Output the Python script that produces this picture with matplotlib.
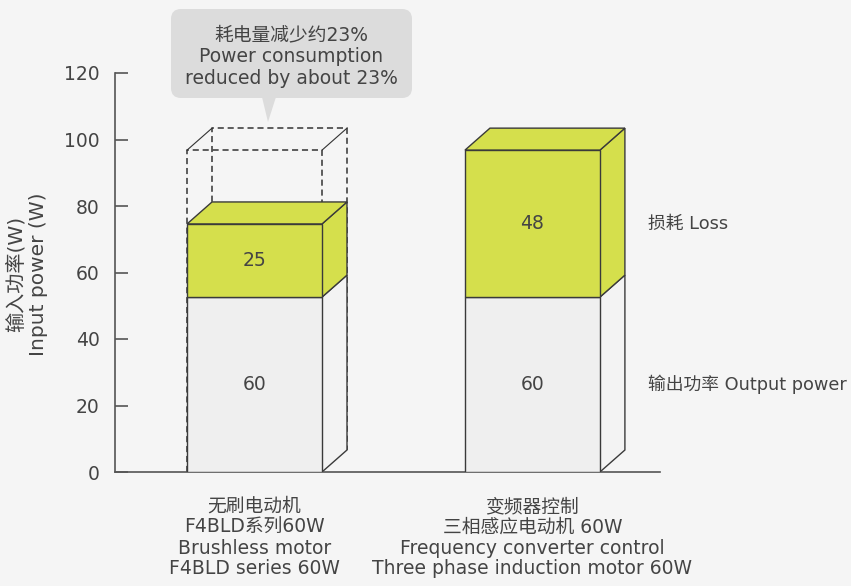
import matplotlib.pyplot as plt
from matplotlib.patches import Polygon, FancyBboxPatch
import numpy as np

plt.rcParams['font.family'] = ['DejaVu Sans', 'Noto Sans CJK SC']

categories = ['无刷电动机\nF4BLD系列60W\nBrushless motor\nF4BLD series 60W',
              '变频器控制\n三相感应电动机 60W\nFrequency converter control\nThree phase induction motor 60W']
output_labels = [60, 60]   # numbers printed on the bars
loss_labels = [25, 48]
# heights as drawn in the picture (the drawing is not to scale with the printed numbers)
output_height = [52.6, 52.6]
loss_height = [22.0, 44.2]
y_ticks = [0, 20, 40, 60, 80, 100, 120]
series_names = ['损耗 Loss', '输出功率 Output power']
callout_text = '耗电量减少约23%\nPower consumption\nreduced by about 23%'

bg = '#f5f5f5'
grey = '#efefef'
green = '#d5df4c'
edge = '#3a3a3a'
txt = '#444444'
fs = 13.5

W, H = 851, 586
fig = plt.figure(figsize=(W / 100, H / 100), dpi=100, facecolor=bg)
ax = fig.add_axes([115 / W, 114 / H, 545 / W, 399 / H])
ax.set_facecolor(bg)

x = np.arange(len(categories))
width = 135 / 278
dx = 25 / 278       # depth offset in x data units
dy = 22 / 3.325     # depth offset in y data units

out = np.array(output_height)
loss = np.array(loss_height)
tot = out + loss

# dashed "ghost" box on the first bar showing the other bar's total
ref = tot[1]
l, r = x[0] - width / 2, x[0] + width / 2
ghost = dict(color='#333333', lw=1.1, ls=(0, (4, 2.5)), zorder=1)
ax.plot([l, l, r, r], [0, ref, ref, 0], **ghost)
ax.plot([l + dx, l + dx, r + dx, r + dx], [dy, ref + dy, ref + dy, dy], **ghost)
ax.plot([l, l + dx], [ref, ref + dy], color='#333333', lw=0.8, zorder=1)
ax.plot([r, r + dx], [ref, ref + dy], color='#333333', lw=0.8, zorder=1)

ax.bar(x, out, width, color=grey, edgecolor=edge, linewidth=1, zorder=3)
ax.bar(x, loss, width, bottom=out, color=green, edgecolor=edge, linewidth=1, zorder=3)

for i in range(len(x)):
    l, r = x[i] - width / 2, x[i] + width / 2
    side_grey = [(r, 0), (r + dx, dy), (r + dx, out[i] + dy), (r, out[i])]
    side_green = [(r, out[i]), (r + dx, out[i] + dy), (r + dx, tot[i] + dy), (r, tot[i])]
    top = [(l, tot[i]), (l + dx, tot[i] + dy), (r + dx, tot[i] + dy), (r, tot[i])]
    ax.add_patch(Polygon(side_grey, closed=True, fc='#f3f3f3', ec=edge, lw=1, zorder=2))
    ax.add_patch(Polygon(side_green, closed=True, fc=green, ec=edge, lw=1, zorder=2))
    ax.add_patch(Polygon(top, closed=True, fc=green, ec=edge, lw=1, zorder=2))
    ax.text(x[i], out[i] / 2, str(output_labels[i]), ha='center', va='center',
            fontsize=fs, color=txt, zorder=5)
    ax.text(x[i], out[i] + loss[i] / 2, str(loss_labels[i]), ha='center', va='center',
            fontsize=fs, color=txt, zorder=5)

ax.set_xlim(-0.502, 1.459)
ax.set_ylim(0, 120)
ax.set_yticks(y_ticks)
ax.set_xticks(x, categories)
for lab in ax.get_xticklabels():
    lab.set_linespacing(1.12)
ax.tick_params(axis='y', direction='in', length=9.5, width=1.2, color='#555555',
               labelsize=fs, labelcolor=txt, pad=11)
ax.tick_params(axis='x', length=0, pad=18, labelsize=fs, labelcolor=txt)
for s in ['top', 'right']:
    ax.spines[s].set_visible(False)
for s in ['left', 'bottom']:
    ax.spines[s].set_color('#555555')
    ax.spines[s].set_linewidth(1.2)

# overlay in pixel coordinates for labels and callout
ov = fig.add_axes([0, 0, 1, 1], facecolor='none')
ov.set_xlim(0, W)
ov.set_ylim(H, 0)
ov.axis('off')

ov.text(27, 274, '输入功率(W)\nInput power (W)', rotation=90, ha='center', va='center',
        fontsize=14.5, color=txt, linespacing=1.25)
ov.text(648, 224, series_names[0], ha='left', va='center', fontsize=12.8, color=txt)
ov.text(648, 384, series_names[1], ha='left', va='center', fontsize=12.8, color=txt)

box_c = '#dcdcdc'
ov.add_patch(FancyBboxPatch((171, 9), 241, 89, boxstyle='round,pad=0,rounding_size=10',
                            fc=box_c, ec='none'))
ov.add_patch(Polygon([(262, 97), (276, 97), (268, 122)], closed=True, fc=box_c, ec='none'))
ov.text(291, 57, callout_text, ha='center', va='center', fontsize=fs, color=txt,
        linespacing=1.2)

fig.savefig('out.png', dpi=100, facecolor=bg)
